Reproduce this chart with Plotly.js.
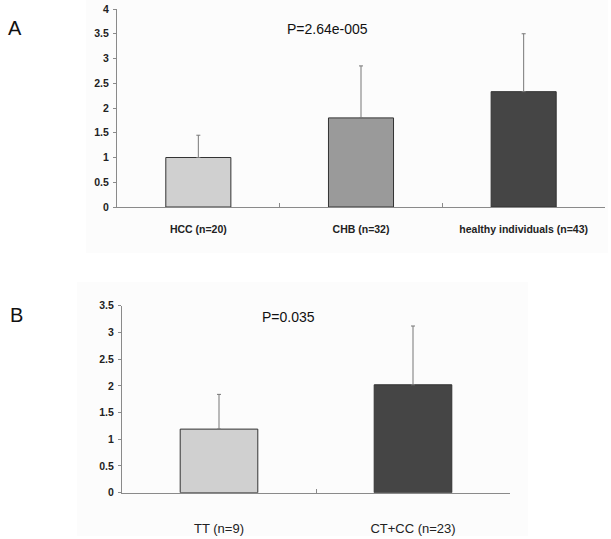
<!DOCTYPE html>
<html>
<head>
<meta charset="utf-8">
<script src="https://cdn.plot.ly/plotly-3.0.1.min.js"></script>
<style>html,body{margin:0;padding:0;background:#fff;}</style>
</head>
<body>
<div id="chart" style="width:611px;height:539px;"></div>
<script>
// Panel A data
const catsA = ["HCC (n=20)", "CHB (n=32)", "healthy individuals (n=43)"];
const valsA = [1.00, 1.80, 2.33];
const errA  = [0.45, 1.05, 1.17];
const colorsA = ["#d0d0d0", "#9a9a9a", "#454545"];
const pA = "P=2.64e-005";

// Panel B data
const catsB = ["TT (n=9)", "CT+CC (n=23)"];
const valsB = [1.19, 2.02];
const errB  = [0.65, 1.10];
const colorsB = ["#d0d0d0", "#454545"];
const pB = "P=0.035";

const W = 611, H = 539;
const px = x => x / W;
const py = y => 1 - y / H;

const barA = {
  type: "bar", x: catsA, y: valsA, xaxis: "x", yaxis: "y",
  width: 0.4,
  marker: {color: colorsA, line: {color: "#333333", width: 1}},
  error_y: {type: "data", symmetric: false, array: errA, arrayminus: errA.map(() => 0),
            color: "#777777", thickness: 1, width: 2},
  hoverinfo: "skip", showlegend: false
};
const barB = {
  type: "bar", x: catsB, y: valsB, xaxis: "x2", yaxis: "y2",
  width: 0.4,
  marker: {color: colorsB, line: {color: "#333333", width: 1}},
  error_y: {type: "data", symmetric: false, array: errB, arrayminus: errB.map(() => 0),
            color: "#777777", thickness: 1, width: 2},
  hoverinfo: "skip", showlegend: false
};

const axisLine = {showline: true, linecolor: "#8a8a8a", linewidth: 1, showgrid: false, zeroline: false};

const layout = {
  width: W, height: H,
  margin: {l: 0, r: 0, t: 0, b: 0},
  paper_bgcolor: "#ffffff", plot_bgcolor: "rgba(0,0,0,0)",
  font: {family: "Arial, Liberation Sans, sans-serif", color: "#111"},
  xaxis: Object.assign({}, axisLine, {
    domain: [px(117), px(605)], anchor: "y", type: "category",
    ticks: "inside", tickson: "boundaries", ticklen: 4, tickcolor: "#8a8a8a",
    tickfont: {size: 10.5, family: "Arial, Liberation Sans, sans-serif", weight: "bold", color: "#222"},
    ticklabelstandoff: 12
  }),
  yaxis: Object.assign({}, axisLine, {
    domain: [py(207), py(9)], anchor: "x", range: [0, 4], dtick: 0.5,
    ticks: "outside", ticklen: 3, tickcolor: "#8a8a8a",
    tickfont: {size: 10.5, weight: "bold", color: "#222"}, ticklabelstandoff: 2
  }),
  xaxis2: Object.assign({}, axisLine, {
    domain: [px(122), px(510)], anchor: "y2", type: "category",
    ticks: "inside", tickson: "boundaries", ticklen: 4, tickcolor: "#8a8a8a",
    tickfont: {size: 13, color: "#222"},
    ticklabelstandoff: 24
  }),
  yaxis2: Object.assign({}, axisLine, {
    domain: [py(492.7), py(305.7)], anchor: "x2", range: [0, 3.5], dtick: 0.5,
    ticks: "outside", ticklen: 3, tickcolor: "#8a8a8a",
    tickfont: {size: 10.5, weight: "bold", color: "#222"}, ticklabelstandoff: 2
  }),
  shapes: [
    {type: "rect", xref: "paper", yref: "paper", x0: px(86), x1: px(608), y0: py(253), y1: py(0),
     fillcolor: "#fcfcfc", line: {width: 0}, layer: "below"},
    {type: "rect", xref: "paper", yref: "paper", x0: px(77), x1: px(528), y0: py(536), y1: py(282),
     fillcolor: "#fcfcfc", line: {width: 0}, layer: "below"}
  ],
  annotations: [
    {text: "A", xref: "paper", yref: "paper", x: px(6), y: py(28), xanchor: "left", yanchor: "middle",
     showarrow: false, font: {size: 20, color: "#111"}},
    {text: pA, xref: "paper", yref: "paper", x: px(285), y: py(29), xanchor: "left", yanchor: "middle",
     showarrow: false, font: {size: 14, color: "#111"}},
    {text: "B", xref: "paper", yref: "paper", x: px(8), y: py(315), xanchor: "left", yanchor: "middle",
     showarrow: false, font: {size: 20, color: "#111"}},
    {text: pB, xref: "paper", yref: "paper", x: px(260), y: py(317), xanchor: "left", yanchor: "middle",
     showarrow: false, font: {size: 14, color: "#111"}}
  ]
};

Plotly.newPlot("chart", [barA, barB], layout, {displayModeBar: false, staticPlot: true});
</script>
</body>
</html>
